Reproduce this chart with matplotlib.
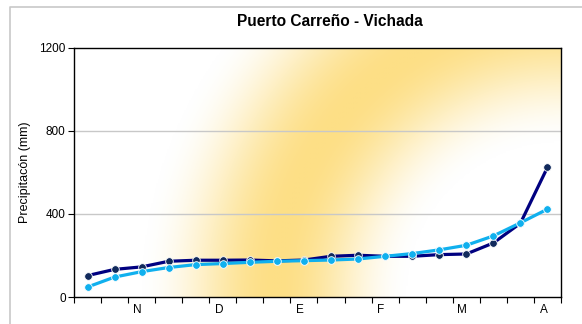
import numpy as np
import matplotlib.pyplot as plt
from matplotlib.colors import LinearSegmentedColormap
from matplotlib.lines import Line2D
import matplotlib.transforms as mtransforms

plt.rcParams['font.family'] = ['Liberation Sans', 'DejaVu Sans']

# dekadal rainfall, 18 periods
periodos = list(range(18))
etiquetas = ['', '', 'N', '', '', 'D', '', '', 'E', '', '', 'F', '', '', 'M', '', '', 'A']
serie_oscura = [103, 133, 145, 172, 177, 177, 178, 174, 178, 196, 201, 196, 196, 204, 207, 260, 355, 624]
serie_clara = [48, 96, 122, 142, 156, 161, 167, 172, 175, 178, 183, 196, 209, 227, 249, 294, 357, 423]

fig = plt.figure(figsize=(5.82, 3.24), dpi=100)
ax = fig.add_axes([0.1271, 0.0833, 0.8368, 0.7695])

# radial white-yellow-white fill from the lower right corner of the plot area
w_px, h_px = 487, 249
xx, yy = np.meshgrid(np.linspace(0, w_px, 400), np.linspace(0, h_px, 200))
d = np.hypot(w_px - xx, yy)
t = np.interp(d, [0, 150, 285, 425, 600], [0, 0, 1, 0, 0])
t = 0.5 - 0.5 * np.cos(np.pi * t)
cmap = LinearSegmentedColormap.from_list('fondo', ['#ffffff', '#fddf86'])
ax.imshow(t, cmap=cmap, vmin=0, vmax=1, origin='lower', aspect='auto',
          extent=(-0.5, 17.5, 0, 1200), zorder=0, interpolation='bilinear')

ax.set_xlim(-0.5, 17.5)
ax.set_ylim(0, 1200)

for yv in [400, 800]:
    ax.axhline(yv, color='#c8c8c8', lw=1, zorder=1)

ax.plot(periodos, serie_oscura, color='#000080', lw=2.3, marker='o', ms=5.5,
        mfc='#112a5c', mec='white', mew=0.6, zorder=3)
ax.plot(periodos, serie_clara, color='#10b0ee', lw=2.3, marker='o', ms=5.5,
        mfc='#10b0ee', mec='white', mew=0.6, zorder=4)

ax.set_yticks([0, 400, 800, 1200])
ax.tick_params(axis='y', labelsize=8.5, length=4, width=0.8, direction='out', pad=2)
ax.set_xticks(periodos)
ax.set_xticklabels(etiquetas, fontsize=8.5)
ax.tick_params(axis='x', which='major', length=0, pad=5)
ax.set_xticks(np.arange(-0.5, 18, 1), minor=True)
ax.tick_params(axis='x', which='minor', length=4, width=0.8, direction='out')
shift = mtransforms.ScaledTranslation(-4 / 100, 0, fig.dpi_scale_trans)
for lab in ax.get_xticklabels():
    lab.set_transform(lab.get_transform() + shift)

for s in ax.spines.values():
    s.set_color('black')
    s.set_linewidth(1)

ax.set_ylabel('Precipitacón (mm)', fontsize=9, labelpad=6)
fig.text(0.567, 0.935, 'Puerto Carreño - Vichada', ha='center', va='center',
         fontsize=11.2, fontweight='bold')

# outer chart frame, top and left edges
x0, y0 = 10.5 / 582, 1 - 6.5 / 324
fig.add_artist(Line2D([x0, x0, 1], [0, y0, y0], transform=fig.transFigure,
                      color='#c8c8c8', lw=1.2))

fig.savefig('out.png', dpi=100)
